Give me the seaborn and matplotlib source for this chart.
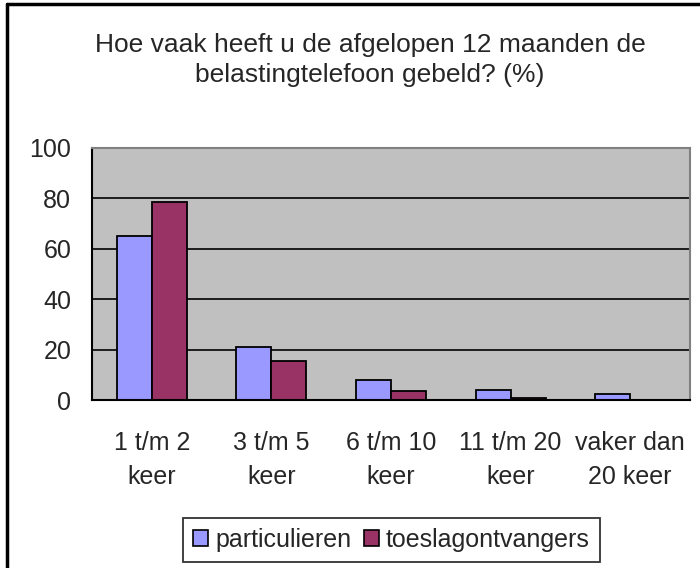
import matplotlib
matplotlib.use("Agg")
import matplotlib.pyplot as plt
import seaborn as sns
import pandas as pd
from matplotlib.patches import Patch
from matplotlib.lines import Line2D

categories = ["1 t/m 2\nkeer", "3 t/m 5\nkeer", "6 t/m 10\nkeer", "11 t/m 20\nkeer", "vaker dan\n20 keer"]
particulieren = [65, 21, 8, 4, 2.3]
toeslagontvangers = [78.5, 15.6, 3.7, 0.7, 0]
series = ["particulieren", "toeslagontvangers"]
colors = ["#9999FF", "#993366"]
yticks = [0, 20, 40, 60, 80, 100]
title = "Hoe vaak heeft u de afgelopen 12 maanden de\nbelastingtelefoon gebeld? (%)"

df = pd.DataFrame({
    "cat": categories * 2,
    "serie": [series[0]] * 5 + [series[1]] * 5,
    "val": particulieren + toeslagontvangers,
})

sns.set_style("white")
plt.rcParams["font.family"] = ["Liberation Sans", "DejaVu Sans"]

fig = plt.figure(figsize=(7, 5.68), dpi=100)
ax = fig.add_axes([92/700, 1-400/568, (690-92)/700, (400-148)/568])

sns.barplot(data=df, x="cat", y="val", hue="serie", palette=colors, ax=ax,
            width=0.585, edgecolor="black", linewidth=1.3, legend=False, saturation=1)

ax.set_facecolor("#C0C0C0")
ax.set_ylim(0, 100)
ax.set_xlim(-0.5, 4.5)
ax.set_yticks(yticks)
ax.set_yticklabels([str(v) for v in yticks], fontsize=18)
for v in yticks[1:-1]:
    ax.axhline(v, color="black", linewidth=1.2, zorder=0.5)
ax.set_axisbelow(True)
ax.set_xlabel("")
ax.set_ylabel("")
ax.set_xticks(range(5))
ax.set_xticklabels(categories, fontsize=18, linespacing=1.55)
ax.tick_params(axis="x", length=0, pad=22)
ax.set_xticks([-0.5, 0.5, 1.5, 2.5, 3.5, 4.5], minor=True)
ax.tick_params(axis="x", which="minor", length=6, width=1.3, color="black", direction="out")
ax.tick_params(axis="y", length=6, width=1.3, color="black", direction="out", pad=9)
for s in ["left", "bottom"]:
    ax.spines[s].set_color("black")
    ax.spines[s].set_linewidth(1.5)
for s in ["top", "right"]:
    ax.spines[s].set_color("#808080")
    ax.spines[s].set_linewidth(1.5)

fig.text(370/700, 1-60/568, title, ha="center", va="center", fontsize=19, linespacing=1.35)

handles = [Patch(facecolor=c, edgecolor="black", linewidth=1.2, label=s) for c, s in zip(colors, series)]
leg = fig.legend(handles=handles, loc="center", bbox_to_anchor=(391.5/700, 1-540/568), ncol=2,
                 fontsize=18, frameon=True, fancybox=False, handlelength=0.6, handleheight=0.6,
                 handletextpad=0.28, columnspacing=0.52, borderpad=0.4, edgecolor="black")
leg.get_frame().set_linewidth(1.3)

fig.add_artist(Line2D([7/700, 7/700], [0, 1-4/568], color="black", linewidth=2.5, transform=fig.transFigure))
fig.add_artist(Line2D([7/700, 1], [1-4/568, 1-4/568], color="black", linewidth=2.5, transform=fig.transFigure))

fig.savefig("out.png", dpi=100, facecolor="white")
